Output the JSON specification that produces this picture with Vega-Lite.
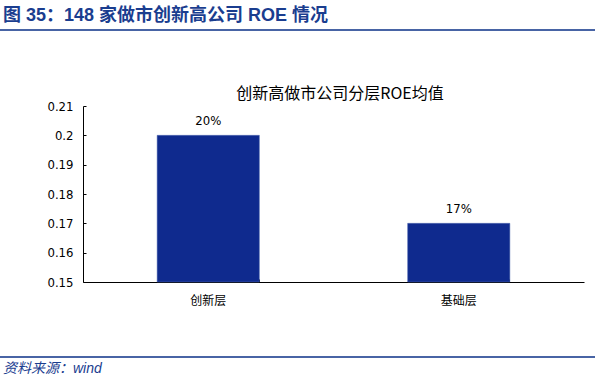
{
  "$schema": "https://vega.github.io/schema/vega-lite/v6.json",
  "width": 501,
  "height": 176,
  "autosize": {"type": "none"},
  "padding": {"left": 83, "top": 106, "right": 11, "bottom": 106},
  "background": "white",
  "config": {
    "view": {"stroke": null},
    "font": "DejaVu Sans Condensed, Liberation Sans Narrow, Noto Sans CJK SC, sans-serif"
  },
  "data": {
    "values": [
      {"category": "创新层", "roe": 0.2},
      {"category": "基础层", "roe": 0.17}
    ]
  },
  "encoding": {
    "x": {
      "field": "category",
      "type": "nominal",
      "sort": null,
      "scale": {"paddingInner": 0.592, "paddingOuter": 0.296},
      "axis": {
        "title": null,
        "labelAngle": 0,
        "labelFontSize": 12,
        "labelColor": "#000000",
        "labelFont": "Noto Sans CJK SC, sans-serif",
        "domainColor": "#000000",
        "domainWidth": 1,
        "tickColor": "#000000",
        "tickSize": -3,
        "bandPosition": 1,
        "labelPadding": 16
      }
    },
    "y": {
      "field": "roe",
      "type": "quantitative",
      "scale": {"domain": [0.15, 0.21], "nice": false, "zero": false},
      "axis": {
        "title": null,
        "values": [0.15, 0.16, 0.17, 0.18, 0.19, 0.2, 0.21],
        "tickCount": 7,
        "format": "~g",
        "grid": false,
        "labelOverlap": false,
        "labelFontSize": 13,
        "labelColor": "#000000",
        "domainColor": "#000000",
        "domainWidth": 1,
        "tickColor": "#000000",
        "tickSize": -3,
        "labelPadding": 13
      }
    }
  },
  "layer": [
    {
      "mark": {"type": "bar", "color": "#0F2A8E", "stroke": "#5068b0", "strokeWidth": 0.5},
      "encoding": {
        "y2": {"datum": 0.15}
      }
    },
    {
      "mark": {"type": "text", "baseline": "bottom", "dy": -7, "fontSize": 13, "color": "#000000"},
      "encoding": {
        "text": {"field": "roe", "type": "quantitative", "format": ".0%"}
      }
    },
    {
      "data": {"values": [{}]},
      "mark": {"type": "text", "align": "center", "baseline": "middle", "fontSize": 16, "color": "#000000", "font": "Noto Sans CJK SC, sans-serif"},
      "encoding": {
        "x": {"value": 257},
        "y": {"value": -12},
        "text": {"value": "创新高做市公司分层ROE均值"}
      }
    },
    {
      "data": {"values": [{}]},
      "mark": {"type": "text", "align": "left", "baseline": "middle", "fontSize": 18, "fontWeight": "bold", "color": "#1A3D8F", "font": "Liberation Sans, Noto Sans CJK SC, sans-serif"},
      "encoding": {
        "x": {"value": -80},
        "y": {"value": -90},
        "text": {"value": "图 35：148 家做市创新高公司 ROE 情况"}
      }
    },
    {
      "data": {"values": [{}]},
      "mark": {"type": "rule", "color": "#0B3087", "strokeWidth": 1.5},
      "encoding": {
        "x": {"value": -83},
        "x2": {"value": 512},
        "y": {"value": -76}
      }
    },
    {
      "data": {"values": [{}]},
      "mark": {"type": "rule", "color": "#0B3087", "strokeWidth": 1.5},
      "encoding": {
        "x": {"value": -83},
        "x2": {"value": 512},
        "y": {"value": 251}
      }
    },
    {
      "data": {"values": [{}]},
      "mark": {"type": "text", "align": "left", "baseline": "middle", "fontSize": 14, "fontStyle": "italic", "color": "#1A3D8F", "font": "Liberation Sans, Noto Sans CJK SC, sans-serif"},
      "encoding": {
        "x": {"value": -80},
        "y": {"value": 263},
        "text": {"value": "资料来源：wind"}
      }
    }
  ]
}
